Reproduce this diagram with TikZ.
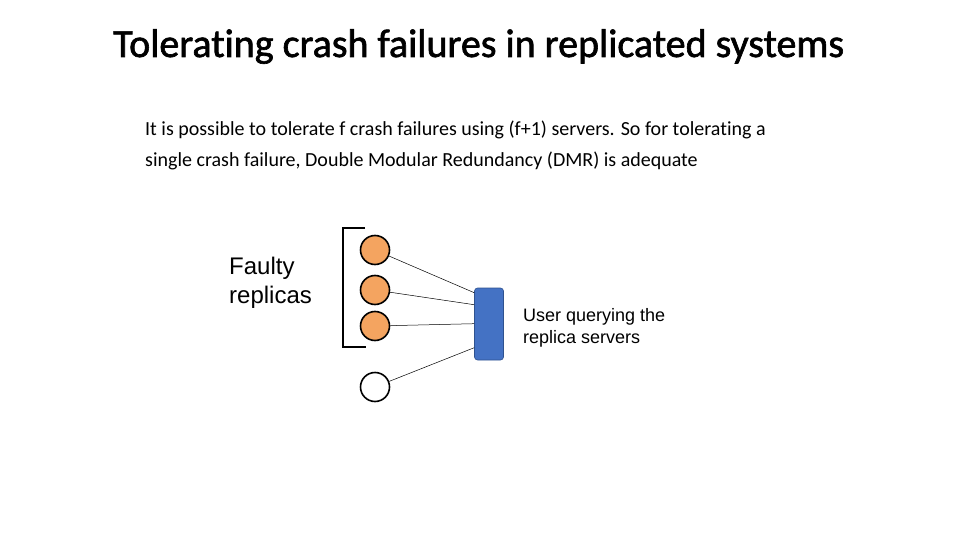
\documentclass[tikz,border=0pt]{standalone}
\usepackage{fontspec}
\setmainfont{Carlito}[Ligatures=NoCommon]
\newfontfamily\titlef{Carlito}[Ligatures=NoCommon,FakeBold=1.6]
\newfontfamily\arialf{Liberation Sans}
\begin{document}
\begin{tikzpicture}[x=1pt,y=-1pt,
  rep/.style={circle,draw=black,line width=1.6pt,minimum size=29pt,inner sep=0pt},
  faulty/.style={rep,fill=orepl},
  link/.style={draw=black,line width=0.5pt},
  client/.style={draw=ubdark,fill=ublue,rounded corners=3pt,minimum width=29pt,minimum height=72pt,inner sep=0pt,line width=0.6pt},
  txt/.style={anchor=base west,inner sep=0pt,align=left}]
\useasboundingbox (0,0) rectangle (960,540);
\definecolor{orepl}{HTML}{F4A460}
\definecolor{ublue}{HTML}{4472C4}
\definecolor{ubdark}{HTML}{2F528F}
\node[txt,font=\titlef\fontsize{40}{40}\selectfont] (title) at (113,57) {Tolerating crash failures in replicated systems};
\node[txt,font=\fontsize{20}{20}\selectfont] (l1) at (145,136) {It is possible to tolerate f crash failures using (f+1) servers. So for tolerating a};
\node[txt,font=\fontsize{20}{20}\selectfont] (l2) at (145,167) {single crash failure, Double Modular Redundancy (DMR) is adequate};
\node[faulty] (c1) at (375,250) {};
\node[faulty] (c2) at (375,290) {};
\node[faulty] (c3) at (375,326) {};
\node[rep,fill=white] (c4) at (375,387) {};
\node[client] (u) at (489,324) {};
\path (u.north west) ++(0,5) coordinate (p1);
\path (u.north west) ++(0,17) coordinate (p2);
\path (u.north west) ++(0,36) coordinate (p3);
\path (u.north west) ++(0,60) coordinate (p4);
\draw[link] (c1) -- (p1);
\draw[link] (c2) -- (p2);
\draw[link] (c3) -- (p3);
\draw[link] (c4) -- (p4);
\coordinate (bt) at (365,228);
\coordinate (bb) at (366,347);
\draw[line width=1.6pt] (bt) -- (343,228) -- (343,347) -- (bb);
\node[txt,font=\arialf\fontsize{24}{29}\selectfont] (fr) at (229,303) {Faulty\\replicas};
\node[txt,font=\arialf\fontsize{18}{22}\selectfont] (uq) at (523,343) {User querying the\\replica servers};
\end{tikzpicture}
\end{document}
